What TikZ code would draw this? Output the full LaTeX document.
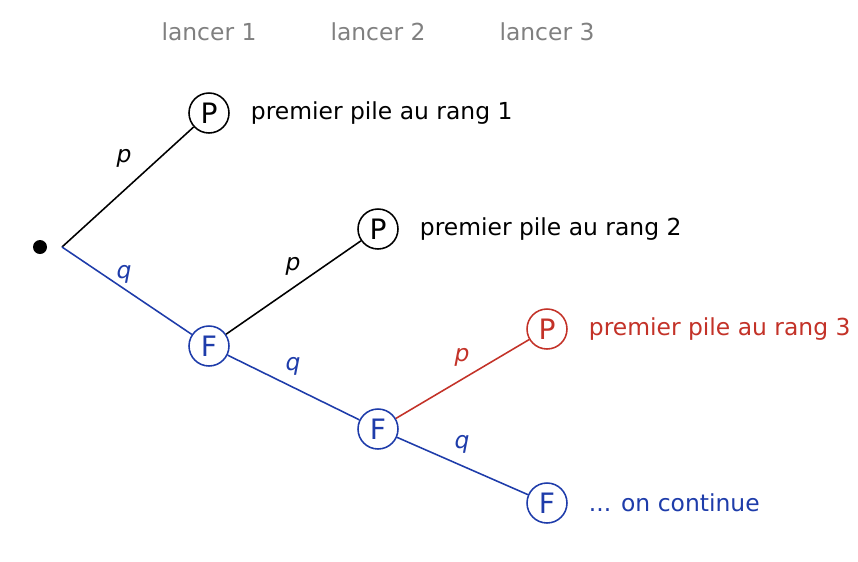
\documentclass[tikz,border=0pt]{standalone}
\usepackage{fontspec}
\setmainfont{DejaVu Sans}
\usetikzlibrary{positioning}
\definecolor{bleu}{RGB}{30,60,170}
\definecolor{rouge}{RGB}{195,50,40}
\tikzset{
  etat/.style={circle, draw, thick, minimum size=0.72cm, inner sep=0pt, font=\Large},
  titre/.style={text=gray, font=\large},
  issue/.style={anchor=west, font=\large},
  lab/.style={font=\large\itshape}
}
\begin{document}
\begin{tikzpicture}[x=0.018cm, y=-0.018cm]
    \useasboundingbox (0,0) rectangle (858,561);

    \node[titre] (l1) at (209,32) {lancer 1};
    \node[titre] (l2) at (378,32) {lancer 2};
    \node[titre] (l3) at (547,32) {lancer 3};

    \fill (40,247) circle (7);
    \coordinate (r) at (62,247);

    \node[etat] (P1) at (209,113) {P};
    \node[etat, bleu] (F1) at (209,346) {F};
    \node[etat] (P2) at (378,229) {P};
    \node[etat, bleu] (F2) at (378,429) {F};
    \node[etat, rouge] (P3) at (547,329) {P};
    \node[etat, bleu] (F3) at (547,503) {F};

    \draw[thick] (r) -- (P1);
    \draw[thick, bleu] (r) -- (F1);
    \draw[thick] (F1) -- (P2);
    \draw[thick, bleu] (F1) -- (F2);
    \draw[thick, rouge] (F2) -- (P3);
    \draw[thick, bleu] (F2) -- (F3);

    \node[lab] at (124,158) {p};
    \node[lab, bleu] at (124,274) {q};
    \node[lab] at (293,266) {p};
    \node[lab, bleu] at (293,366) {q};
    \node[lab, rouge] at (462,357) {p};
    \node[lab, bleu] at (462,444) {q};

    \node[issue] (t1) at (244,113) {premier pile au rang 1};
    \node[issue] (t2) at (413,229) {premier pile au rang 2};
    \node[issue, rouge] (t3) at (582,329) {premier pile au rang 3};
    \node[issue, bleu] (t4) at (582,503) {... on continue};
\end{tikzpicture}
\end{document}
